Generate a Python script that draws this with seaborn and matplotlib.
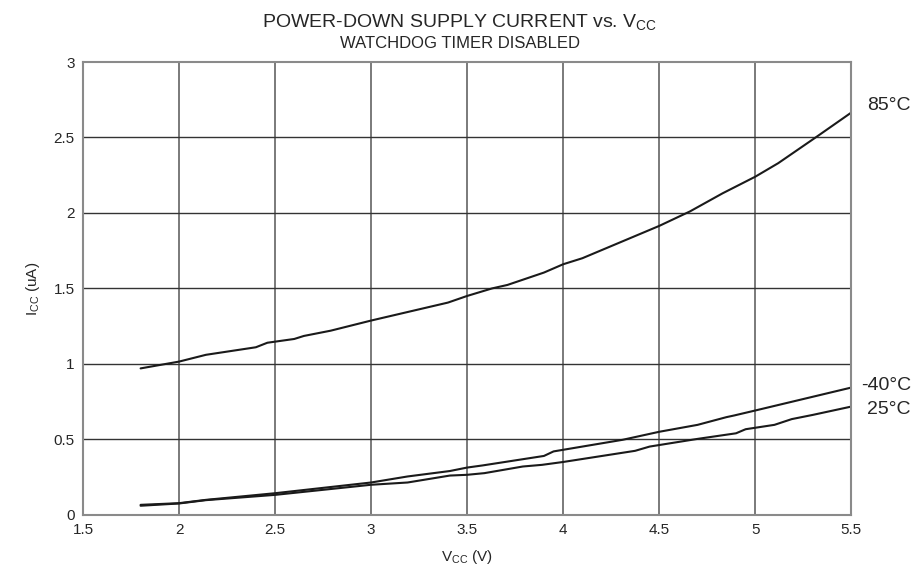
import matplotlib
matplotlib.use('Agg')

import pandas as pd
import matplotlib.pyplot as plt
import seaborn as sns

# 85°C curve
v_85 = [1.8, 2.0, 2.14, 2.40, 2.46, 2.60, 2.65, 2.79, 3.0, 3.40, 3.5, 3.63, 3.71,
        3.90, 4.0, 4.10, 4.5, 4.66, 4.83, 5.0, 5.12, 5.32, 5.5]
i_85 = [0.97, 1.015, 1.06, 1.11, 1.14, 1.165, 1.185, 1.22, 1.287, 1.406, 1.45, 1.50, 1.523,
        1.605, 1.66, 1.70, 1.914, 2.01, 2.13, 2.24, 2.33, 2.505, 2.665]

# -40°C curve
v_m40 = [1.8, 2.0, 2.14, 2.5, 3.0, 3.19, 3.41, 3.5, 3.58, 3.90, 3.95, 4.31, 4.5,
         4.70, 4.85, 4.89, 5.0, 5.5]
i_m40 = [0.066, 0.077, 0.099, 0.143, 0.214, 0.254, 0.29, 0.313, 0.327, 0.39, 0.42, 0.497, 0.55,
         0.596, 0.647, 0.658, 0.691, 0.843]

# 25°C curve
v_25 = [1.8, 2.0, 2.14, 2.5, 3.0, 3.19, 3.41, 3.5, 3.59, 3.79, 3.89, 4.0, 4.375, 4.45,
        4.7, 4.9, 4.95, 5.1, 5.19, 5.3, 5.5]
i_25 = [0.06, 0.075, 0.097, 0.132, 0.199, 0.214, 0.26, 0.265, 0.276, 0.32, 0.331, 0.35, 0.424, 0.452,
        0.503, 0.54, 0.567, 0.596, 0.634, 0.662, 0.717]

series_labels = ["85°C", "-40°C", "25°C"]

frames = []
for lab, vs, cs in zip(series_labels, [v_85, v_m40, v_25], [i_85, i_m40, i_25]):
    frames.append(pd.DataFrame({"vcc": vs, "icc": cs, "temp": lab}))
df = pd.concat(frames, ignore_index=True)

sns.set_style("white")
plt.rcParams['font.family'] = ['Liberation Sans', 'DejaVu Sans']
plt.rcParams['mathtext.default'] = 'regular'

fig = plt.figure(figsize=(9.19, 5.85), dpi=100)
ax = fig.add_axes([0.0903, 0.120, 0.836, 0.774])

sns.lineplot(data=df, x="vcc", y="icc", hue="temp", units="temp", estimator=None,
             palette=["#1a1a1a"] * 3, legend=False, linewidth=1.5, sort=True, ax=ax)

ax.set_xlim(1.5, 5.5)
ax.set_ylim(0, 3)
ax.set_xticks([1.5, 2, 2.5, 3, 3.5, 4, 4.5, 5, 5.5])
ax.set_xticklabels(["1.5", "2", "2.5", "3", "3.5", "4", "4.5", "5", "5.5"])
ax.set_yticks([0, 0.5, 1, 1.5, 2, 2.5, 3])
ax.set_yticklabels(["0", "0.5", "1", "1.5", "2", "2.5", "3"])
ax.tick_params(length=0, labelsize=11, pad=6)

for xv in [2, 2.5, 3, 3.5, 4, 4.5, 5]:
    ax.axvline(xv, color="#7a7a7a", linewidth=1.4, zorder=0)
for yv in [0.5, 1, 1.5, 2, 2.5]:
    ax.axhline(yv, color="#333333", linewidth=1.0, zorder=0)
for s in ax.spines.values():
    s.set_color("#8a8a8a")
    s.set_linewidth(1.5)

ax.set_xlabel("V$_{CC}$ (V)", fontsize=11, labelpad=8)
ax.set_ylabel("I$_{CC}$ (uA)", fontsize=11, labelpad=8)

ax.text(5.81, 2.715, "85°C", fontsize=14, va="center", ha="right")
ax.text(5.81, 0.86, "-40°C", fontsize=14, va="center", ha="right")
ax.text(5.81, 0.70, "25°C", fontsize=14, va="center", ha="right")

fig.text(0.5, 0.962, "POWER-DOWN SUPPLY CURRENT vs. V$_{CC}$", ha="center", va="center", fontsize=14)
fig.text(0.5, 0.925, "WATCHDOG TIMER DISABLED", ha="center", va="center", fontsize=12)

fig.savefig("out.png", dpi=100)
